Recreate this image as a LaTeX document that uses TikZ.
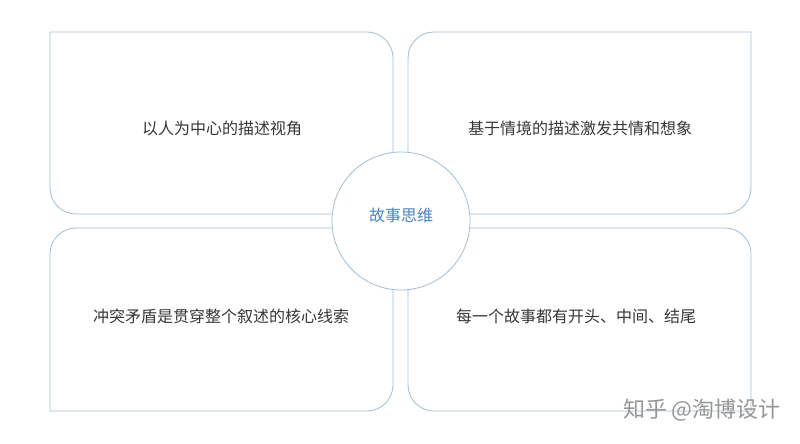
\documentclass[tikz,border=0pt]{standalone}
\usepackage{fontspec}
\setmainfont{Noto Sans CJK SC}
\newfontfamily\cjk{Noto Sans CJK SC}
\definecolor{edgec}{RGB}{160,190,214}
\definecolor{txtc}{RGB}{55,55,55}
\definecolor{bluec}{RGB}{74,132,196}
\definecolor{markc}{RGB}{150,150,150}
\begin{document}
\begin{tikzpicture}[x=1pt,y=1pt,
  boxline/.style={draw=edgec,line width=0.8pt,fill=white},
  boxtext/.style={font=\cjk\fontsize{16}{19}\selectfont,text=txtc,inner sep=0pt},
  hub/.style={circle,draw=edgec,line width=0.8pt,fill=white,minimum size=138pt,inner sep=0pt},
  hubtext/.style={font=\cjk\fontsize{16}{19}\selectfont,text=bluec,inner sep=0pt},
  wmark/.style={font=\cjk\fontsize{22}{26}\selectfont,text=markc,inner sep=0pt}]
\useasboundingbox (0,0) rectangle (800,444);
\fill[white] (0,0) rectangle (800,444);
\def\r{26}
% top-left box (sharp top-left)
\draw[boxline] (50,412) -- (393-\r,412) arc[start angle=90,end angle=0,radius=\r]
  -- (393,230+\r) arc[start angle=0,end angle=-90,radius=\r]
  -- (50+\r,230) arc[start angle=270,end angle=180,radius=\r] -- cycle;
% top-right box (sharp top-right)
\draw[boxline] (751,412) -- (751,230+\r) arc[start angle=0,end angle=-90,radius=\r]
  -- (408+\r,230) arc[start angle=270,end angle=180,radius=\r]
  -- (408,412-\r) arc[start angle=180,end angle=90,radius=\r] -- cycle;
% bottom-left box (sharp bottom-left)
\draw[boxline] (50,33) -- (50,216-\r) arc[start angle=180,end angle=90,radius=\r]
  -- (393-\r,216) arc[start angle=90,end angle=0,radius=\r]
  -- (393,33+\r) arc[start angle=0,end angle=-90,radius=\r] -- cycle;
% bottom-right box (sharp bottom-right)
\draw[boxline] (751,33) -- (408+\r,33) arc[start angle=270,end angle=180,radius=\r]
  -- (408,216-\r) arc[start angle=180,end angle=90,radius=\r]
  -- (751-\r,216) arc[start angle=90,end angle=0,radius=\r] -- cycle;
% labels
\node[boxtext] (tl) at (222,316) {以人为中心的描述视角};
\node[boxtext] (tr) at (580,316) {基于情境的描述激发共情和想象};
\node[boxtext] (bl) at (221,128) {冲突矛盾是贯穿整个叙述的核心线索};
\node[boxtext] (br) at (576,128) {每一个故事都有开头、中间、结尾};
% hub
\node[hub] (hubc) at (401,223) {};
\node[hubtext] (hubt) at (401,229) {故事思维};
% watermark
\node[wmark,anchor=east] (wm) at (781,34) {知乎 @淘博设计};
\end{tikzpicture}
\end{document}
